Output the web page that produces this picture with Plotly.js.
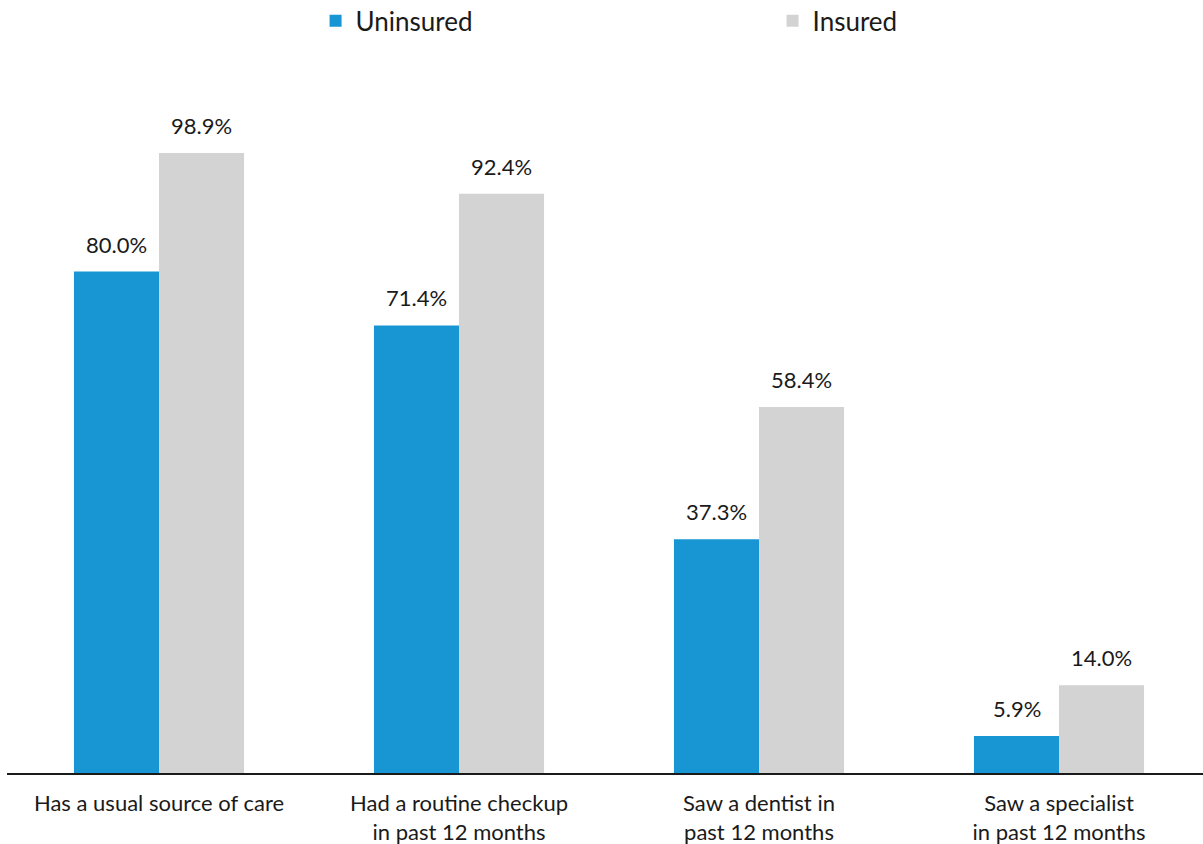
<!DOCTYPE html>
<html>
<head>
<meta charset="utf-8">
<script src="https://cdn.plot.ly/plotly-3.0.1.min.js"></script>
<style>html,body{margin:0;padding:0;background:#fff;}#chart{width:1203px;height:844px;}</style>
</head>
<body>
<div id="chart"></div>
<script>
var categories = ["Has a usual source of care", "Had a routine checkup<br>in past 12 months", "Saw a dentist in<br>past 12 months", "Saw a specialist<br>in past 12 months"];
var uninsured = [80.0, 71.4, 37.3, 5.9];
var insured = [98.9, 92.4, 58.4, 14.0];
var seriesNames = ["Uninsured", "Insured"];
var colors = ["#1896d3", "#d3d3d3"];

function fmt(v){ return v.toFixed(1) + "%"; }

var legendIds = ["legend", "legend2"];
var traces = [uninsured, insured].map(function(vals, i){
  return {
    type: "bar",
    name: seriesNames[i],
    x: categories,
    y: vals,
    marker: {color: colors[i]},
    legend: legendIds[i],
    hoverinfo: "none"
  };
});

// value labels positioned through the axes
var annotations = [];
[uninsured, insured].forEach(function(vals, i){
  vals.forEach(function(v, j){
    annotations.push({
      x: categories[j], y: v, xref: "x", yref: "y",
      text: fmt(v), showarrow: false,
      xanchor: "center", yanchor: "bottom",
      xshift: (i === 0 ? -42.5 : 42.5), yshift: 12,
      font: {family: "Lato", size: 22, color: "#1a1a1a"}
    });
  });
});

var legendFont = {family: "Lato", size: 26, color: "#1a1a1a"};
var layout = {
  width: 1203, height: 844,
  margin: {l: 7, r: 0, t: 83, b: 71, autoexpand: false},
  paper_bgcolor: "#fff", plot_bgcolor: "#fff",
  font: {family: "Lato", size: 22, color: "#1a1a1a"},
  barmode: "group",
  bargap: 0.433,
  bargroupgap: 0,
  xaxis: {
    type: "category",
    range: [-0.5067, 3.48],
    showline: true, linecolor: "#1a1a1a", linewidth: 2,
    showgrid: false, zeroline: false, ticks: "",
    ticklabelstandoff: 10,
    automargin: false,
    tickfont: {family: "Lato", size: 22, color: "#1a1a1a"}
  },
  yaxis: {
    range: [0, 110.07],
    visible: false, showgrid: false, zeroline: false, automargin: false
  },
  legend: {
    orientation: "h",
    x: 0.2580, xanchor: "left",
    y: 1.124, yanchor: "top",
    font: legendFont,
    bgcolor: "rgba(0,0,0,0)"
  },
  legend2: {
    orientation: "h",
    x: 0.6401, xanchor: "left",
    y: 1.124, yanchor: "top",
    font: legendFont,
    bgcolor: "rgba(0,0,0,0)"
  },
  annotations: annotations,
  showlegend: true
};

Plotly.newPlot("chart", traces, layout, {displayModeBar: false, staticPlot: true});
</script>
</body>
</html>
